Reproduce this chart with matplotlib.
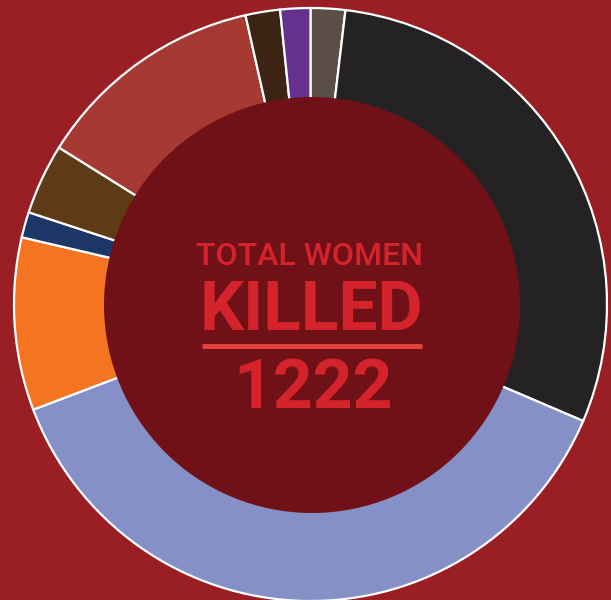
import matplotlib.pyplot as plt
from matplotlib.patches import Circle

# Datos (sentido horario desde las 12)
etiquetas = ["gris", "negro", "azul claro", "naranja", "azul marino",
             "marron", "oxido", "marron oscuro", "morado"]
valores = [23, 361, 462, 115, 17, 47, 154, 23, 20]
colores = ["#5a4e47", "#242223", "#8591c6", "#f47421", "#1c3668",
           "#5e3a16", "#a63a33", "#3c2314", "#66308f"]
total = sum(valores)

fondo = "#9a1f25"
centro = "#701118"
rojo_texto = "#d4232b"

fig = plt.figure(figsize=(6.11, 6.0), dpi=100, facecolor=fondo)
ax = fig.add_axes([0, 0, 1, 1])
ax.set_facecolor(fondo)

ax.pie(valores, colors=colores, startangle=90, counterclock=False,
       center=(310.5, 295.5), radius=296.5,
       wedgeprops=dict(edgecolor="white", linewidth=1.6))

ax.add_patch(Circle((312, 295), 208, facecolor=centro, edgecolor="none", zorder=5))

ax.text(310, 335, "TOTAL WOMEN", ha="center", va="baseline", color=rojo_texto,
        fontsize=23, family="Roboto", fontweight="medium", zorder=6)
ax.text(311, 270, "KILLED", ha="center", va="baseline", color=rojo_texto,
        fontsize=50, family="Roboto", fontweight="bold", zorder=6)
ax.plot([202, 422], [254, 254], color="#e8413c", linewidth=3.5,
        solid_capstyle="butt", zorder=6)
ax.text(313, 192, str(total), ha="center", va="baseline", color=rojo_texto,
        fontsize=50, family="Roboto", fontweight="bold", zorder=6)

ax.set_xlim(0, 611)
ax.set_ylim(0, 600)
ax.set_aspect("equal")
ax.axis("off")

fig.savefig("out.png", dpi=100, facecolor=fondo)
